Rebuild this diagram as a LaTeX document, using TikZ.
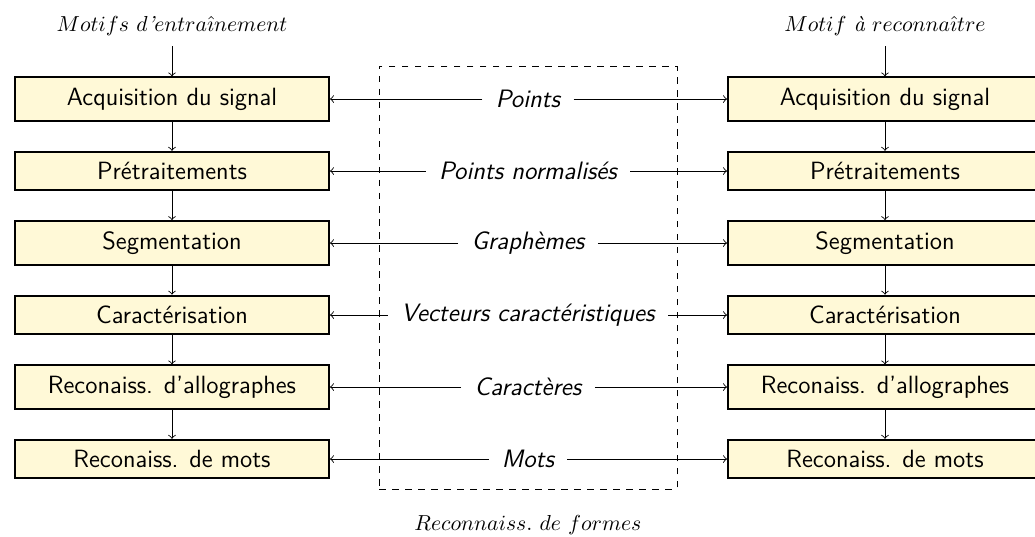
\documentclass[tikz,border=0pt]{standalone}
\definecolor{boxfill}{RGB}{255,249,215}
\begin{document}
\begin{tikzpicture}[x=0.4608pt,y=-0.4608pt,
  stage/.style={draw, line width=0.9pt, fill=boxfill, minimum width=144.7pt, inner ysep=4.8pt, font=\fontsize{11.5}{13}\sffamily},
  flow/.style={->, line width=0.4pt},
  datalabel/.style={font=\fontsize{11.6}{13}\sffamily\itshape, inner xsep=6pt},
  titletext/.style={inner ysep=4.6pt, anchor=south},
  frame/.style={draw, dashed, line width=0.4pt, minimum width=137.3pt, minimum height=194.9pt}]
\clip (0,0) rectangle (1035,536);
\node[frame] (fr) at (528,277.5) {};
\node[titletext] (tL) at (172,46) {$Motifs\ d\mbox{\itshape '}entra\hat{\imath}nement$};
\node[titletext] (tR) at (885,46) {$Motif\ \mbox{\itshape à}\ reconna\hat{\imath}tre$};
\node (tB) at (528,525) {$Reconnaiss.\ de\ formes$};
\foreach \i/\y/\txt/\lab in {1/99/Acquisition du signal/Points,
  2/171/Prétraitements/Points normalisés,
  3/243/Segmentation/Graphèmes,
  4/315/Caractérisation/Vecteurs caractéristiques,
  5/387/Reconaiss. d'allographes/Caractères,
  6/459/Reconaiss. de mots/Mots}{
  \node[stage] (L\i) at (172,\y) {\txt};
  \node[stage] (R\i) at (885,\y) {\txt};
  \node[datalabel] (D\i) at (528,\y) {\lab};
  \draw[flow] (D\i.west) -- (L\i.east);
  \draw[flow] (D\i.east) -- (R\i.west);
}
\draw[flow] (tL) -- (L1);
\draw[flow] (tR) -- (R1);
\foreach \i/\j in {1/2,2/3,3/4,4/5,5/6}{
  \draw[flow] (L\i) -- (L\j);
  \draw[flow] (R\i) -- (R\j);
}
\end{tikzpicture}
\end{document}
